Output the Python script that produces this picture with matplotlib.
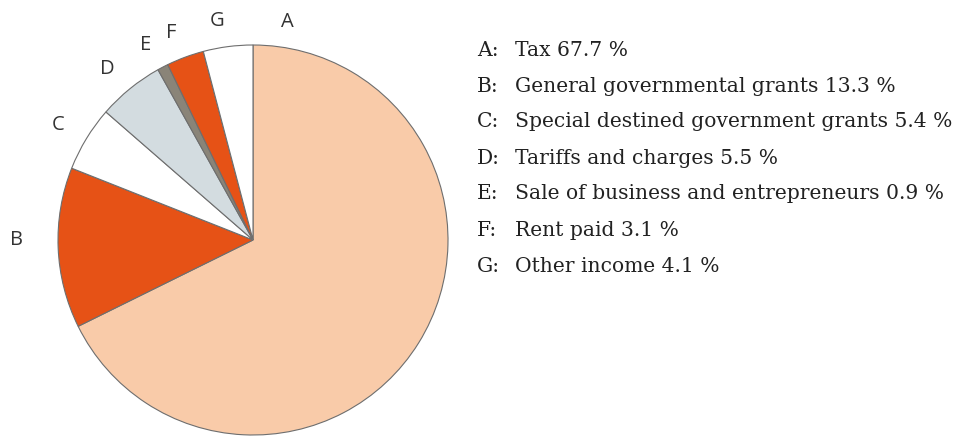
import matplotlib.pyplot as plt
import numpy as np

# data
letters = ['A', 'B', 'C', 'D', 'E', 'F', 'G']
descriptions = ['Tax', 'General governmental grants', 'Special destined government grants',
                'Tariffs and charges', 'Sale of business and entrepreneurs', 'Rent paid', 'Other income']
shares = [67.7, 13.3, 5.4, 5.5, 0.9, 3.1, 4.1]
colors = ['#F9CBA9', '#E65216', '#FFFFFF', '#D3DCE0', '#8A8478', '#E65216', '#FFFFFF']

W, H = 959, 438
fig = plt.figure(figsize=(W / 100, H / 100), dpi=100)

# pie axes: center (253, 240) px, radius 195 px
cx, cy, r = 253, 240, 195
ax = fig.add_axes([(cx - r) / W, (H - cy - r) / H, 2 * r / W, 2 * r / H])
wedges, texts = ax.pie(shares, labels=letters, colors=colors, startangle=90,
                       counterclock=False, labeldistance=1.13,
                       wedgeprops=dict(edgecolor='#6E6E6E', linewidth=0.8),
                       textprops=dict(fontsize=14.5, family='Open Sans', color='#333333'))
ax.set_xlim(-1, 1)
ax.set_ylim(-1, 1)
ax.set_aspect('equal')
ax.axis('off')

# the A label sits just right of the top, not at the slice middle
ang = np.deg2rad(81)
texts[0].set_position((1.13 * np.cos(ang), 1.13 * np.sin(ang)))
texts[0].set_ha('center')
texts[1].set_position((-1.18, 0.0))

# legend list on the right
y0, dy = 50, 36
for i, (l, d, s) in enumerate(zip(letters, descriptions, shares)):
    y = 1 - (y0 + i * dy) / H
    fig.text(477 / W, y, f'{l}:', fontsize=14.6, family='DejaVu Serif',
             color='#222222', va='center')
    fig.text(515 / W, y, f'{d} {s} %', fontsize=14.6, family='DejaVu Serif',
             color='#222222', va='center')

fig.savefig('out.png', dpi=100)
